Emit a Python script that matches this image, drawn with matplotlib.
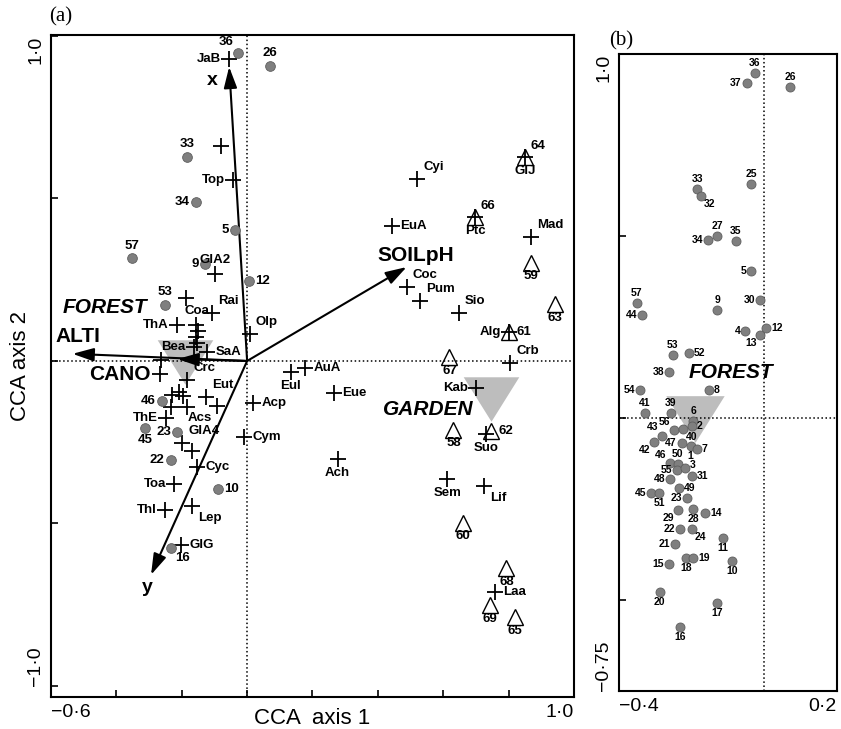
import matplotlib
matplotlib.use('Agg')
import matplotlib.pyplot as plt
import numpy as np

plt.rcParams['font.family'] = ['Liberation Sans', 'DejaVu Sans']

# ---- values ----
# forest sites (sample scores) - same scores in both panels
site_ids = [36, 37, 26, 33, 32, 25, 27, 34, 35, 5, 57, 44, 9, 30, 4, 12, 13, 53, 52, 38,
            54, 8, 41, 39, 6, 2, 56, 40, 43, 42, 47, 1, 7, 46, 50, 55, 3, 31, 48, 49,
            45, 51, 23, 28, 29, 14, 22, 24, 11, 21, 18, 19, 15, 10, 20, 17, 16]
site_x = [-0.027, -0.049, 0.071, -0.184, -0.175, -0.036, -0.129, -0.156, -0.079, -0.036,
          -0.351, -0.337, -0.129, -0.011, -0.052, 0.005, -0.011, -0.252, -0.208, -0.263,
          -0.342, -0.153, -0.329, -0.258, -0.195, -0.200, -0.249, -0.225, -0.282, -0.304,
          -0.227, -0.203, -0.186, -0.260, -0.238, -0.241, -0.219, -0.200, -0.260, -0.236,
          -0.312, -0.290, -0.214, -0.195, -0.238, -0.162, -0.233, -0.200, -0.115, -0.247,
          -0.216, -0.195, -0.263, -0.090, -0.288, -0.129, -0.233]
site_y = [0.948, 0.920, 0.909, 0.629, 0.610, 0.643, 0.500, 0.489, 0.486, 0.404,
          0.316, 0.283, 0.297, 0.324, 0.239, 0.247, 0.228, 0.173, 0.179, 0.126,
          0.077, 0.077, 0.014, 0.014, -0.008, -0.022, -0.033, -0.030, -0.049, -0.066,
          -0.069, -0.077, -0.085, -0.124, -0.126, -0.143, -0.137, -0.159, -0.168, -0.192,
          -0.206, -0.206, -0.220, -0.250, -0.253, -0.261, -0.305, -0.305, -0.330, -0.346,
          -0.385, -0.385, -0.401, -0.393, -0.478, -0.508, -0.574]

# forest sites that are also shown in panel (a)
sites_in_a = [36, 26, 33, 34, 5, 57, 9, 12, 53, 46, 45, 23, 22, 10, 16]

# garden sites (open triangles, panel a)
garden_ids = [64, 66, 59, 63, 61, 67, 58, 62, 60, 68, 69, 65]
garden_x = [0.851, 0.698, 0.869, 0.942, 0.802, 0.619, 0.631, 0.747, 0.659, 0.793, 0.744, 0.820]
garden_y = [0.628, 0.443, 0.302, 0.175, 0.089, 0.012, -0.212, -0.215, -0.498, -0.637, -0.751, -0.788]

# species scores (crosses, panel a); '' = unlabelled
species = ['JaB', '', 'Top', 'GlA2', '', 'Rai', 'Coa', '', '', '', 'Bea', 'ThA', 'SaA',
           '', '', 'Crc', '', '', '', '', 'Eut', 'Acs', '', 'ThE', 'GlA4', '', 'Cyc',
           'Toa', 'Thl', 'Lep', 'GlG', 'Cym', 'Olp', 'Eul', 'AuA', 'Eue', 'Acp', 'Ach',
           'Coc', 'Pum', 'Cyi', 'GlJ', 'EuA', 'Ptc', 'Mad', 'Sio', 'Alg', 'Crb', 'Kab',
           'Suo', 'Sem', 'Lif', 'Laa']
species_x = [-0.055, -0.079, -0.043, -0.098, -0.186, -0.107, -0.155, -0.149, -0.155, -0.152,
             -0.162, -0.216, -0.122, -0.262, -0.268, -0.183, -0.229, -0.207, -0.195, -0.183,
             -0.125, -0.091, -0.232, -0.247, -0.198, -0.168, -0.152, -0.223, -0.250, -0.168,
             -0.201, -0.009, 0.009, 0.134, 0.177, 0.265, 0.018, 0.277, 0.488, 0.530,
             0.521, 0.851, 0.442, 0.698, 0.869, 0.649, 0.802, 0.805, 0.701, 0.732,
             0.613, 0.726, 0.759]
species_y = [0.929, 0.662, 0.557, 0.268, 0.194, 0.148, 0.111, 0.092, 0.074, 0.055,
             0.043, 0.111, 0.028, 0.003, -0.040, -0.058, -0.105, -0.095, -0.108, -0.142,
             -0.111, -0.138, -0.142, -0.175, -0.252, -0.277, -0.326, -0.378, -0.458, -0.446,
             -0.566, -0.234, 0.083, -0.034, -0.022, -0.098, -0.129, -0.302, 0.228, 0.185,
             0.560, 0.628, 0.415, 0.443, 0.382, 0.148, 0.089, -0.006, -0.083, -0.225,
             -0.363, -0.385, -0.711]

# environmental variables (arrows, panel a)
env_names = ['x', 'y', 'SOILpH', 'ALTI', 'CANO']
env_x = [-0.055, -0.294, 0.488, -0.534, -0.213]
env_y = [0.905, -0.658, 0.289, 0.022, 0.006]

# habitat centroids (grey triangles)
centroid_names = ['FOREST', 'GARDEN']
centroid_x = [-0.19, 0.747]
centroid_y = [-0.003, -0.117]

# ---- label layout ----
site_dir_a = {36: 'tl', 26: 't', 33: 't', 34: 'l', 5: 'l', 57: 't', 9: 'l', 12: 'r', 53: 't',
              46: 'l', 45: 'b', 23: 'l', 22: 'l', 10: 'r', 16: 'br'}
site_dir_b = ['t', 'l', 't', 't', 'br', 't', 't', 'l', 't', 'l', 't', 'l', 't', 'l', 'l', 'r',
              'bl', 't', 'r', 'l', 'l', 'r', 't', 't', 't', 'r', 'tl', 'br', 'tl', 'bl', 'l',
              'b', 'r', 'tl', 't', 'l', 'rt', 'r', 'l', 'r', 'l', 'b', 'l', 'b', 'bl', 'r',
              'l', 'br', 'b', 'l', 'b', 'r', 'l', 'b', 'b', 'b', 'b']
garden_dir = ['tr', 'tr', 'b', 'b', 'r', 'b', 'b', 'r', 'b', 'b', 'b', 'b']
species_dir = ['l', '', 'l', 't', '', 'tr', 't', '', '', '', 'l', 'l', 'r', '', '', 'tr', '',
               '', '', '', 'tr', 'bl', '', 'l', 'tr', '', 'r', 'l', 'l', 'br', 'r', 'r', 'tr',
               'b', 'r', 'r', 'r', 'b', 'tr', 'tr', 'tr', 'b', 'r', 'b', 'tr', 'tr', 'l', 'tr',
               'l', 'b', 'b', 'br', 'r']
env_label_xy = [(-0.107, 0.862), (-0.305, -0.698), (0.515, 0.326), (-0.518, 0.074), (-0.39, -0.043)]
centroid_label_a = [(-0.436, 0.166), (0.555, -0.148)]
centroid_label_b = (-0.093, 0.124)

OFF = {'l': (-1, 0, 'right', 'center'), 'r': (1, 0, 'left', 'center'),
       't': (0, 1, 'center', 'bottom'), 'b': (0, -1, 'center', 'top'),
       'tr': (0.7, 0.7, 'left', 'bottom'), 'tl': (-0.7, 0.7, 'right', 'bottom'),
       'br': (0.7, -0.7, 'left', 'top'), 'bl': (-0.7, -0.7, 'right', 'top'),
       'rt': (1, 0.5, 'left', 'center')}


def put_label(ax, x, y, text, d, gap, size):
    if not text or not d:
        return
    dx, dy, ha, va = OFF[d]
    ax.annotate(text, (x, y), xytext=(dx * gap, dy * gap), textcoords='offset points',
                ha=ha, va=va, fontsize=size, fontweight='bold', zorder=6)


tri_marker = [(-1, 0.8), (1, 0.8), (0, -0.8), (-1, 0.8)]
dot_kw = dict(marker='o', ms=7, mfc='#7f7f7f', mec='#5e5e5e', mew=0.6, ls='none', zorder=4)

fig = plt.figure(figsize=(8.41, 7.29), dpi=100)
ax_a = fig.add_axes([51 / 841, 1 - 697 / 729, 523 / 841, 662 / 729])
ax_b = fig.add_axes([619 / 841, 1 - 691 / 729, 218 / 841, 637 / 729])

# ---------------- panel (a) ----------------
ax = ax_a
ax.scatter(centroid_x, centroid_y, marker=tri_marker, s=40 ** 2, c='#bdbdbd', linewidths=0, zorder=1)
ax.axhline(0, ls=':', lw=1.1, color='k', zorder=2)
ax.axvline(0, ls=':', lw=1.1, color='k', zorder=2)

for i in range(len(env_names)):
    ax.annotate('', xy=(env_x[i], env_y[i]), xytext=(0, 0),
                arrowprops=dict(arrowstyle='-|>,head_length=0.8,head_width=0.25', mutation_scale=16,
                                lw=1.5, color='k', shrinkA=0, shrinkB=0), zorder=3)
    size = 14 if len(env_names[i]) == 1 else 15
    ax.text(env_label_xy[i][0], env_label_xy[i][1], env_names[i], fontsize=size, fontweight='bold',
            ha='center', va='center', zorder=6)

for i in range(len(centroid_names)):
    ax.text(centroid_label_a[i][0], centroid_label_a[i][1], centroid_names[i], fontsize=15,
            fontweight='bold', fontstyle='italic', ha='center', va='center', zorder=6)

ax.plot(species_x, species_y, marker='+', ms=12, mew=1.3, color='k', ls='none', zorder=4)
for i in range(len(species)):
    put_label(ax, species_x[i], species_y[i], species[i], species_dir[i], 6, 9.5)

ax.plot(garden_x, garden_y, marker='^', ms=11, mfc='none', mec='k', mew=1.0, ls='none', zorder=4)
for i in range(len(garden_ids)):
    put_label(ax, garden_x[i], garden_y[i], str(garden_ids[i]), garden_dir[i], 5.5, 9.5)

ia = [site_ids.index(s) for s in sites_in_a]
ax.plot([site_x[i] for i in ia], [site_y[i] for i in ia], **dot_kw)
for i in ia:
    put_label(ax, site_x[i], site_y[i], str(site_ids[i]), site_dir_a[site_ids[i]], 4.5, 9.5)

ax.set_xlim(-0.6, 1.0)
ax.set_ylim(-1.034, 1.003)
ax.set_xticks(np.arange(-0.6, 1.01, 0.2))
ax.set_xticklabels(['\u22120\u00b76', '', '', '', '', '', '', '', '1\u00b70'], fontsize=14)
ax.set_yticks([-1.0, -0.5, 0, 0.5, 1.0])
ax.set_yticklabels(['\u22121\u00b70', '', '', '', '1\u00b70'], fontsize=14, rotation=90, va='center')
ax.get_xticklabels()[0].set_ha('left')
ax.get_xticklabels()[-1].set_ha('right')
ax.get_yticklabels()[0].set_va('bottom')
ax.get_yticklabels()[-1].set_va('top')
ax.tick_params(direction='in', length=5, width=1.2, pad=5)
ax.set_xlabel('CCA  axis 1', fontsize=16)
ax.set_ylabel('CCA axis 2', fontsize=16)
ax.xaxis.set_label_coords(0.5, -0.016)
ax.yaxis.set_label_coords(-0.038, 0.5)
for sp in ax.spines.values():
    sp.set_linewidth(1.5)

# ---------------- panel (b) ----------------
ax = ax_b
ax.scatter(centroid_x[:1], centroid_y[:1], marker=tri_marker, s=42 ** 2, c='#bdbdbd', linewidths=0, zorder=1)
ax.axhline(0, ls=':', lw=1.1, color='k', zorder=2)
ax.axvline(0, ls=':', lw=1.1, color='k', zorder=2)
ax.text(centroid_label_b[0], centroid_label_b[1], 'FOREST', fontsize=15, fontweight='bold',
        fontstyle='italic', ha='center', va='center', zorder=6)
ax.plot(site_x, site_y, **dict(dot_kw, ms=6.5))
for i in range(len(site_ids)):
    put_label(ax, site_x[i], site_y[i], str(site_ids[i]), site_dir_b[i], 3.5, 7.5)

ax.set_xlim(-0.4, 0.2)
ax.set_ylim(-0.75, 1.0)
ax.set_xticks([-0.4, 0.2])
ax.set_xticklabels(['\u22120\u00b74', '0\u00b72'], fontsize=14)
ax.set_yticks([-0.75, -0.5, 0, 0.5, 1.0])
ax.set_yticklabels(['\u22120\u00b775', '', '', '', '1\u00b70'], fontsize=14, rotation=90, va='center')
ax.get_xticklabels()[0].set_ha('left')
ax.get_xticklabels()[-1].set_ha('right')
ax.get_yticklabels()[0].set_va('bottom')
ax.get_yticklabels()[-1].set_va('top')
ax.tick_params(direction='in', length=5, width=1.2, pad=5)
for sp in ax.spines.values():
    sp.set_linewidth(1.5)

fig.text(49 / 841, 1 - 17 / 729, '(a)', family='Liberation Serif', fontsize=15, va='center')
fig.text(609 / 841, 1 - 41 / 729, '(b)', family='Liberation Serif', fontsize=15, va='center')

plt.savefig('out.png', dpi=100)
